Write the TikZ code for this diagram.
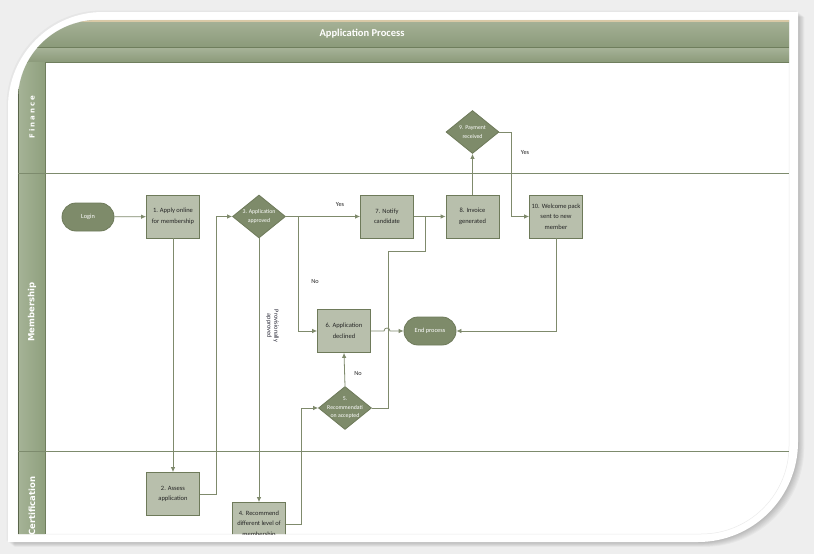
\documentclass[tikz,border=0pt]{standalone}
\usepackage{fontspec}
\setmainfont{Carlito}
\newfontfamily\lanefont{DejaVu Sans}
\newfontfamily\lanefontsp[LetterSpace=30]{DejaVu Sans}
\usetikzlibrary{shapes.geometric,shapes.misc,arrows.meta}
\definecolor{bgc}{HTML}{EEEEEE}
\definecolor{hdrtop}{HTML}{A6B297}
\definecolor{hdrbot}{HTML}{8B9A7A}
\definecolor{hdrline}{HTML}{6F7E5D}
\definecolor{colfill}{HTML}{8FA07D}
\definecolor{boxfill}{HTML}{B8BFAC}
\definecolor{boxline}{HTML}{6E7A5A}
\definecolor{darkfill}{HTML}{7E8B6A}
\definecolor{wire}{HTML}{7F8A6C}
\definecolor{tanline}{HTML}{D9C9A6}
\definecolor{notec}{HTML}{2A2A38}
\tikzset{
  cardshape/.style={insert path={(8,542) -- (8,107) .. controls (8,54.6) and (50.6,12) .. (103,12) -- (798,12) -- (798,442) .. controls (798,497.2) and (753.2,542) .. (698,542) -- cycle}},
  diagshape/.style={insert path={(18,534) -- (18,100) .. controls (18,55.8) and (53.8,20) .. (98,20) -- (789,20) -- (789,446) .. controls (789,494.6) and (749.6,534) .. (701,534) -- cycle}},
  procbox/.style={rectangle, draw=boxline, fill=boxfill, line width=0.8pt, minimum width=53pt, minimum height=43pt, inner sep=1pt, align=center, font=\fontsize{6.5}{10.5}\selectfont, text=black!85},
  decision/.style={diamond, draw=boxline, fill=darkfill, line width=0.8pt, minimum width=53pt, minimum height=43pt, inner sep=0pt},
  dtext/.style={font=\fontsize{5.8}{8.5}\selectfont, text=white, align=center},
  terminal/.style={rounded rectangle, draw=boxline, fill=darkfill, line width=0.8pt, minimum width=54pt, minimum height=28pt, inner sep=1pt, font=\fontsize{6.3}{7.5}\selectfont, text=white},
  wireline/.style={draw=wire, line width=0.8pt},
  arr/.style={wireline, -{Latex[length=5pt,width=4.5pt]}},
  note/.style={font=\fontsize{6.3}{7.5}\selectfont, text=black!85},
  lanelabel/.style={text=white, rotate=90}
}
\begin{document}
\begin{tikzpicture}[x=1pt,y=-1pt]
\useasboundingbox (0,0) rectangle (814,554);
% background and card
\fill[bgc] (0,0) rectangle (814,554);
\foreach \s in {1,...,7}{
  \fill[black, opacity=0.03, shift={(\s*0.9,\s*0.7)}, cardshape];
}
\fill[black, opacity=0.03, shift={(-1.5,-1.5)}, cardshape];
\fill[white, cardshape];
\draw[black!8, line width=0.5pt, diagshape];
\begin{scope}
\clip[diagshape];
% header bars
\shade[top color=hdrtop, bottom color=hdrbot] (18,20) rectangle (789,47);
\fill[tanline] (18,20) rectangle (789,21.5);
\shade[top color=hdrtop, bottom color=hdrbot] (18,48) rectangle (789,62);
\draw[hdrline, line width=1pt] (18,47.5) -- (789,47.5);
\draw[hdrline, line width=1pt] (18,62) -- (789,62);
% lane label column
\shade[left color=colfill!80!white, right color=colfill] (18,62) rectangle (45,534);
\draw[hdrline, line width=0.8pt] (45,62) -- (45,534);
\draw[hdrline!80!black, line width=1pt] (18.5,62) -- (18.5,534);
% lane separators
\draw[hdrline!90, line width=1pt] (18,173) -- (789,173);
\draw[hdrline!90, line width=1pt] (18,451.5) -- (789,451.5);
% title and lane labels
\node[text=white, font=\bfseries\fontsize{10.5}{12}\selectfont] (title) at (362,33.5) {Application Process};
\node[lanelabel, font=\lanefontsp\bfseries\fontsize{7}{8}\selectfont] (lfin) at (32,117) {Finance};
\node[lanelabel, font=\lanefont\bfseries\fontsize{8.5}{10}\selectfont] (lmem) at (32,312) {Membership};
\node[lanelabel, font=\lanefont\bfseries\fontsize{8.5}{10}\selectfont] (lcert) at (32,506) {Certification};
% nodes
\node[terminal] (login) at (88,217) {Login};
\node[procbox] (n1) at (173,216.5) {1. Apply online\\for membership};
\node[decision, label={[dtext]center:{3. Application\\approved}}] (d3) at (259,216.5) {};
\node[procbox] (n7) at (387,216.5) {7. Notify\\candidate};
\node[procbox] (n8) at (472.5,216.5) {8. Invoice\\generated};
\node[procbox] (n10) at (556,216.5) {10. Welcome pack\\sent to new\\member};
\node[decision, label={[dtext]center:{9. Payment\\received}}] (d9) at (472.5,132) {};
\node[procbox] (n6) at (344,331) {6. Application\\declined};
\node[terminal] (endp) at (430,331) {End process};
\node[decision, label={[dtext]center:{5.\\Recommendati\\on accepted}}] (d5) at (345,408) {};
\node[procbox] (n2) at (173,494) {2. Assess\\application};
\node[procbox] (n4) at (259,524) {4. Recommend\\different level of\\membership};
% coordinates
\coordinate (b3) at (298,216.5);
\coordinate (j8) at (425,216.5);
\coordinate (j8b) at (425,251);
% connectors
\draw[arr] (login) -- (n1);
\draw[arr] (n1) -- (n2);
\draw[arr] (n2.east) -- ++(16,0) |- (d3.west);
\draw[arr] (d3.south) -- (n4.north);
\draw[arr] (d3.east) -- (n7.west);
\draw[arr] (b3) |- (n6.west);
\draw[arr] (n7) -- (n8);
\draw[wireline] (d5.east) -- ++(16,0) |- (j8b) -- (j8);
\draw[arr] (n6.east) -- (384,331) .. controls (384,327) and (390,327) .. (390,331) -- (endp.west);
\draw[arr] (n10.south) |- (endp.east);
\draw[arr] (n8.north) -- (d9.south);
\draw[arr] (d9.east) -- ++(12,0) |- (n10.west);
\draw[arr] (d5.north) -- (n6.south);
\draw[arr] (n4.east) -- ++(15,0) |- (d5.west);
% connector labels
\node[note] (lyes1) at (340,204) {Yes};
\node[note] (lno1) at (315,281) {No};
\node[note] (lno2) at (358,373) {No};
\node[note] (lyes2) at (525,152) {Yes};
\node[note, text=notec, rotate=-90, align=center, font=\fontsize{6.3}{7}\selectfont] (lprov) at (272.5,326) {Provisionally\\approved};
\end{scope}
\end{tikzpicture}
\end{document}
